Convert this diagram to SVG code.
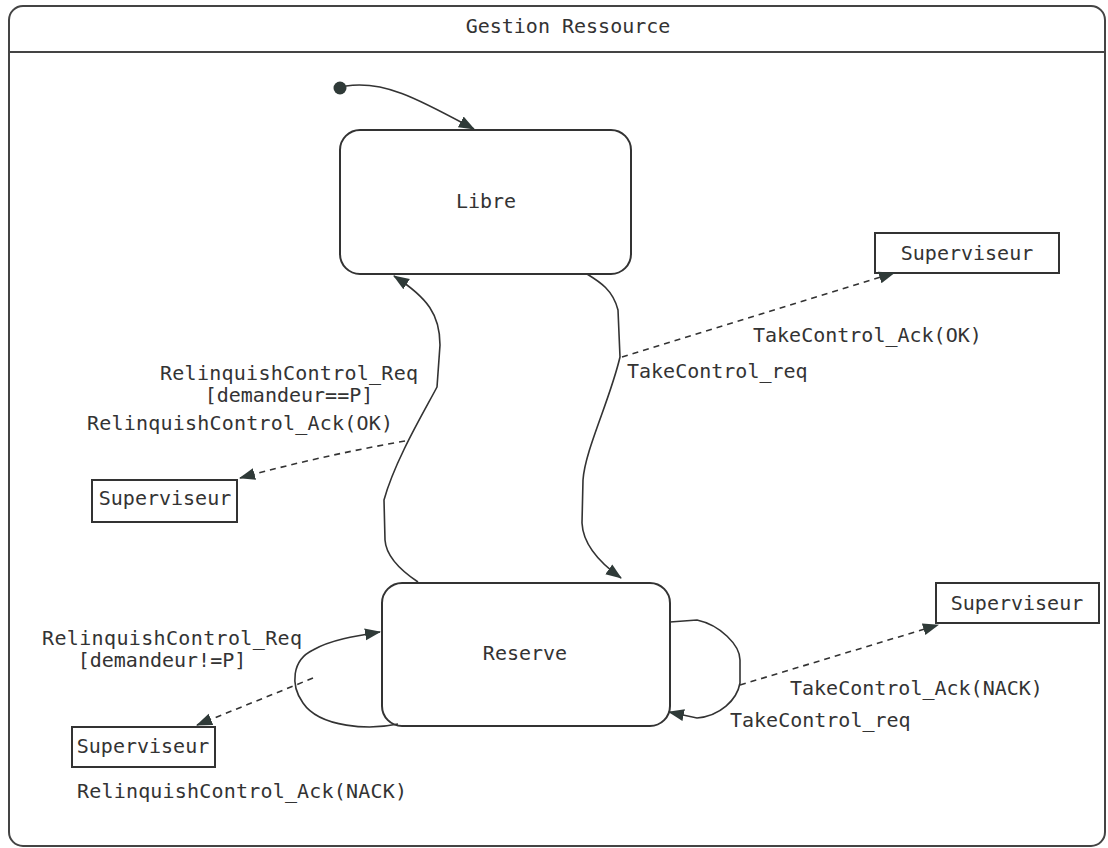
<svg xmlns="http://www.w3.org/2000/svg" width="1108" height="848" viewBox="0 0 1108 848">
<style>
text{font-family:"DejaVu Sans Mono","Liberation Mono",monospace;font-size:20px;fill:#333}
.frame{fill:none;stroke:#444;stroke-width:2}
.state{fill:#fff;stroke:#333;stroke-width:2}
.obj{fill:#fff;stroke:#333;stroke-width:2}
.edge{fill:none;stroke:#333;stroke-width:1.6}
.dash{fill:none;stroke:#333;stroke-width:1.6;stroke-dasharray:6 5}
</style>
<defs>
<marker id="ah" viewBox="0 0 16 14" refX="15" refY="7" markerWidth="16" markerHeight="14" markerUnits="userSpaceOnUse" orient="auto">
<path d="M0,1 L16,7 L0,13 Z" fill="#2f3a38"/>
</marker>
</defs>
<g id="frame">
<rect class="frame" x="9" y="6" width="1096" height="840" rx="14"/>
<line class="frame" x1="9" y1="52" x2="1105" y2="52"/>
<text x="568" y="33" text-anchor="middle">Gestion Ressource</text>
</g>
<g id="initial">
<circle cx="340" cy="88" r="6.5" fill="#2f3a38"/>
</g>
<g id="libre">
<rect class="state" x="340" y="130" width="291" height="144" rx="20"/>
<text x="486" y="208" text-anchor="middle">Libre</text>
</g>
<g id="reserve">
<rect class="state" x="382" y="583" width="288" height="143" rx="20"/>
<text x="525" y="660" text-anchor="middle">Reserve</text>
</g>
<g id="sup1">
<rect class="obj" x="875" y="233" width="184" height="40"/>
<text x="967" y="260" text-anchor="middle">Superviseur</text>
</g>
<g id="sup2">
<rect class="obj" x="92" y="480" width="145" height="42"/>
<text x="165" y="505" text-anchor="middle">Superviseur</text>
</g>
<g id="sup3">
<rect class="obj" x="936" y="583" width="163" height="40"/>
<text x="1017" y="610" text-anchor="middle">Superviseur</text>
</g>
<g id="sup4">
<rect class="obj" x="72" y="727" width="143" height="40"/>
<text x="143" y="753" text-anchor="middle">Superviseur</text>
</g>
<g id="connectors">
<path class="edge" d="M346,86 C385,80 420,100 474,129" marker-end="url(#ah)"/>
<path class="edge" d="M587,274 C600,282 613,290 618,310 L620,357 C610,400 585,450 583,480 L582,523 C583,545 600,563 621,578" marker-end="url(#ah)"/>
<path class="edge" d="M418,582 C400,570 386,555 385,540 L384,500 C395,460 425,410 437,387 L440,345 C440,315 428,298 394,276" marker-end="url(#ah)"/>
<path class="dash" d="M622,357 L894,273" marker-end="url(#ah)"/>
<path class="dash" d="M405,441 Q320,456 240,478" marker-end="url(#ah)"/>
<path class="edge" d="M398,724 C370,730 320,728 303,703 C290,685 292,660 313,650 C330,640 355,636 380,632" marker-end="url(#ah)"/>
<path class="dash" d="M313,678 L197,725" marker-end="url(#ah)"/>
<path class="edge" d="M670,622 L697,620 C720,625 740,645 740,660 L740,683 C737,700 720,716 697,718 L669,712" marker-end="url(#ah)"/>
<path class="dash" d="M740,685 L938,625" marker-end="url(#ah)"/>
</g>
<g id="labels">
<text x="753" y="342">TakeControl_Ack(OK)</text>
<text x="627" y="378">TakeControl_req</text>
<text x="160" y="380" textLength="258" lengthAdjust="spacing">RelinquishControl_Req</text>
<text x="289" y="402" text-anchor="middle">[demandeur==P]</text>
<text x="87" y="430" textLength="306" lengthAdjust="spacing">RelinquishControl_Ack(OK)</text>
<text x="42" y="645" textLength="260" lengthAdjust="spacing">RelinquishControl_Req</text>
<text x="162" y="667" text-anchor="middle">[demandeur!=P]</text>
<text x="77" y="798" textLength="330" lengthAdjust="spacing">RelinquishControl_Ack(NACK)</text>
<text x="790" y="695">TakeControl_Ack(NACK)</text>
<text x="730" y="727">TakeControl_req</text>
</g>
</svg>
